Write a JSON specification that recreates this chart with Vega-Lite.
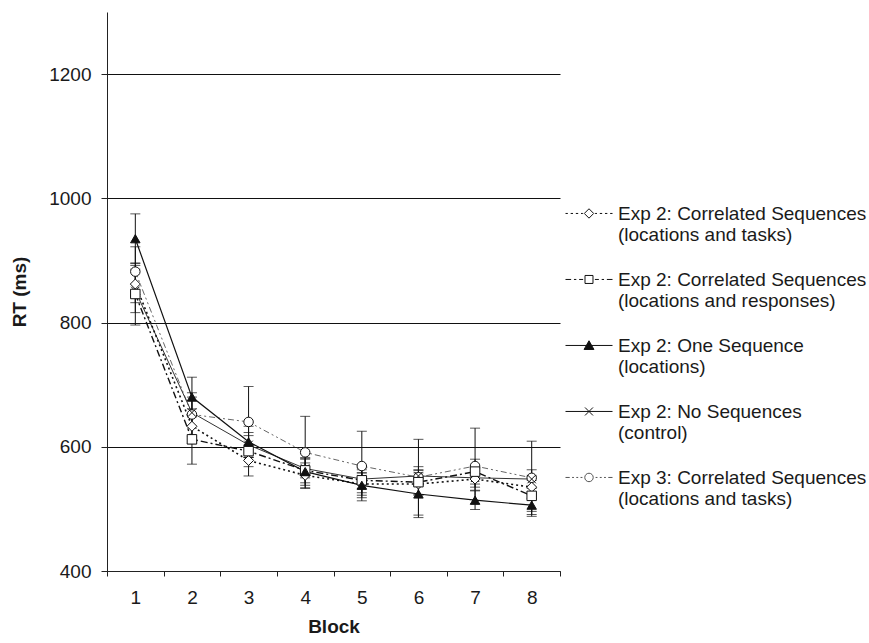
{
  "$schema": "https://vega.github.io/schema/vega-lite/v6.json",
  "width": 453,
  "height": 559,
  "autosize": {"type": "none"},
  "padding": {"left": 107, "top": 12, "right": 309, "bottom": 72},
  "background": "white",
  "config": {
    "font": "Liberation Sans",
    "view": {"stroke": null}
  },
  "data": {
    "values": [
      {"block": 1, "series": "d", "rt": 862, "se": 30},
      {"block": 2, "series": "d", "rt": 633, "se": 28},
      {"block": 3, "series": "d", "rt": 578, "se": 25},
      {"block": 4, "series": "d", "rt": 554, "se": 20},
      {"block": 5, "series": "d", "rt": 540, "se": 18},
      {"block": 6, "series": "d", "rt": 540, "se": 18},
      {"block": 7, "series": "d", "rt": 548, "se": 18},
      {"block": 8, "series": "d", "rt": 535, "se": 18},
      {"block": 1, "series": "s", "rt": 846, "se": 50},
      {"block": 2, "series": "s", "rt": 612, "se": 40},
      {"block": 3, "series": "s", "rt": 593, "se": 25},
      {"block": 4, "series": "s", "rt": 562, "se": 20},
      {"block": 5, "series": "s", "rt": 546, "se": 20},
      {"block": 6, "series": "s", "rt": 543, "se": 20},
      {"block": 7, "series": "s", "rt": 560, "se": 20},
      {"block": 8, "series": "s", "rt": 521, "se": 25},
      {"block": 1, "series": "t", "rt": 935, "se": 40},
      {"block": 2, "series": "t", "rt": 680, "se": 32},
      {"block": 3, "series": "t", "rt": 608, "se": 25},
      {"block": 4, "series": "t", "rt": 560, "se": 22},
      {"block": 5, "series": "t", "rt": 538, "se": 20},
      {"block": 6, "series": "t", "rt": 524, "se": 38},
      {"block": 7, "series": "t", "rt": 514, "se": 15},
      {"block": 8, "series": "t", "rt": 506, "se": 18},
      {"block": 1, "series": "x", "rt": 851, "se": 35},
      {"block": 2, "series": "x", "rt": 655, "se": 25},
      {"block": 3, "series": "x", "rt": 603, "se": 20},
      {"block": 4, "series": "x", "rt": 565, "se": 15},
      {"block": 5, "series": "x", "rt": 548, "se": 15},
      {"block": 6, "series": "x", "rt": 553, "se": 15},
      {"block": 7, "series": "x", "rt": 550, "se": 15},
      {"block": 8, "series": "x", "rt": 548, "se": 15},
      {"block": 1, "series": "o", "rt": 882, "se": 40},
      {"block": 2, "series": "o", "rt": 652, "se": 35},
      {"block": 3, "series": "o", "rt": 640, "se": 57},
      {"block": 4, "series": "o", "rt": 591, "se": 58},
      {"block": 5, "series": "o", "rt": 569, "se": 56},
      {"block": 6, "series": "o", "rt": 551, "se": 61},
      {"block": 7, "series": "o", "rt": 569, "se": 61},
      {"block": 8, "series": "o", "rt": 550, "se": 59}
    ]
  },
  "encoding": {
    "x": {
      "field": "block",
      "type": "ordinal",
      "scale": {"type": "band", "paddingInner": 0, "paddingOuter": 0},
      "axis": {
        "title": "Block",
        "titleFontSize": 19,
        "titleFontWeight": "bold",
        "titleColor": "#1a1a1a",
        "titlePadding": 10,
        "labelAngle": 0,
        "labelFontSize": 19,
        "labelColor": "#1a1a1a",
        "labelPadding": 12,
        "tickBand": "extent",
        "tickSize": 5,
        "tickColor": "#222",
        "domainColor": "#222",
        "grid": false
      }
    },
    "y": {
      "field": "rt",
      "type": "quantitative",
      "scale": {"domain": [400, 1300], "nice": false, "zero": false},
      "axis": {
        "title": "RT (ms)",
        "titleFontSize": 19,
        "titleFontWeight": "bold",
        "titleColor": "#1a1a1a",
        "titlePadding": 19,
        "values": [400, 600, 800, 1000, 1200],
        "format": "d",
        "labelFontSize": 19,
        "labelColor": "#1a1a1a",
        "labelPadding": 10,
        "tickSize": 6,
        "tickColor": "#222",
        "domainColor": "#222",
        "grid": true,
        "gridColor": "#111",
        "gridOpacity": 1,
        "gridWidth": 1
      }
    }
  },
  "layer": [
    {
      "transform": [{"filter": {"field": "series", "equal": "o"}}],
      "mark": {"type": "line", "stroke": "#666", "strokeWidth": 1, "strokeDash": [6, 3, 2, 3, 2, 3]},
      "encoding": {}
    },
    {
      "transform": [{"filter": {"field": "series", "equal": "x"}}],
      "mark": {"type": "line", "stroke": "#333", "strokeWidth": 1},
      "encoding": {}
    },
    {
      "transform": [{"filter": {"field": "series", "equal": "d"}}],
      "mark": {"type": "line", "stroke": "#111", "strokeWidth": 1.6, "strokeDash": [2, 3]},
      "encoding": {}
    },
    {
      "transform": [{"filter": {"field": "series", "equal": "s"}}],
      "mark": {"type": "line", "stroke": "#111", "strokeWidth": 1.4, "strokeDash": [7, 3, 2, 3]},
      "encoding": {}
    },
    {
      "transform": [{"filter": {"field": "series", "equal": "t"}}],
      "mark": {"type": "line", "stroke": "#111", "strokeWidth": 1.2},
      "encoding": {}
    },
    {
      "mark": {"type": "errorbar", "ticks": {"size": 10}, "color": "#111", "thickness": 1},
      "encoding": {
        "yError": {"field": "se"},
        "detail": {"field": "series", "type": "nominal"}
      }
    },
    {
      "transform": [{"filter": {"field": "series", "equal": "o"}}],
      "mark": {"type": "point", "shape": "circle", "filled": true, "fill": "white", "stroke": "#111", "strokeWidth": 1, "size": 90, "opacity": 1},
      "encoding": {}
    },
    {
      "transform": [{"filter": {"field": "series", "equal": "x"}}],
      "mark": {"type": "point", "shape": "M-1,-1L1,1M-1,1L1,-1", "filled": true, "fill": "white", "stroke": "#111", "strokeWidth": 1, "size": 70, "opacity": 1},
      "encoding": {}
    },
    {
      "transform": [{"filter": {"field": "series", "equal": "d"}}],
      "mark": {"type": "point", "shape": "diamond", "filled": true, "fill": "white", "stroke": "#111", "strokeWidth": 1, "size": 100, "opacity": 1},
      "encoding": {}
    },
    {
      "transform": [{"filter": {"field": "series", "equal": "s"}}],
      "mark": {"type": "point", "shape": "square", "filled": true, "fill": "white", "stroke": "#111", "strokeWidth": 1, "size": 90, "opacity": 1},
      "encoding": {}
    },
    {
      "transform": [{"filter": {"field": "series", "equal": "t"}}],
      "mark": {"type": "point", "shape": "triangle-up", "filled": true, "fill": "#111", "stroke": "#111", "strokeWidth": 1, "size": 90, "opacity": 1},
      "encoding": {}
    },
    {
      "transform": [{"filter": {"field": "block", "equal": 0}}],
      "mark": {"type": "point", "filled": true, "opacity": 1, "strokeWidth": 1},
      "encoding": {
        "shape": {
          "field": "series", "type": "nominal",
          "scale": {"domain": ["d", "s", "t", "x", "o"], "range": [
            "M-1,0.36H-0.9M-0.78,0.36H-0.68M-0.56,0.36H-0.46M-0.34,0.36H-0.26M0,0.16L0.2,0.36L0,0.56L-0.2,0.36ZM0.26,0.36H0.34M0.46,0.36H0.56M0.68,0.36H0.78M0.9,0.36H1",
            "M-1,0.36H-0.76M-0.64,0.36H-0.54M-0.42,0.36H-0.25M-0.17,0.19H0.17V0.53H-0.17ZM0.25,0.36H0.42M0.54,0.36H0.64M0.76,0.36H1",
            "M-1,0.36H1M0,0.16L0.21,0.53L-0.21,0.53Z",
            "M-1,0.36H1M-0.17,0.19L0.17,0.53M-0.17,0.53L0.17,0.19",
            "M-1,0.36H-0.82M-0.72,0.36H-0.64M-0.54,0.36H-0.46M-0.36,0.36H-0.28M0.18,0.36A0.18,0.18,0,1,1,-0.18,0.36A0.18,0.18,0,1,1,0.18,0.36ZM0.28,0.36H0.36M0.46,0.36H0.54M0.64,0.36H0.72M0.82,0.36H1"
          ]},
          "legend": {
            "orient": "none",
            "legendX": 458,
            "legendY": 169,
            "title": null,
            "padding": 0,
            "symbolSize": 2209,
            "symbolStrokeWidth": 1,
            "symbolOpacity": 1,
            "labelFontSize": 19,
            "labelColor": "#1a1a1a",
            "labelOffset": 5,
            "labelLimit": 0,
            "labelBaseline": "top",
            "rowPadding": 2,
            "labelExpr": "datum.value === 'd' ? ['Exp 2: Correlated Sequences', '(locations and tasks)'] : datum.value === 's' ? ['Exp 2: Correlated Sequences', '(locations and responses)'] : datum.value === 't' ? ['Exp 2: One Sequence', '(locations)'] : datum.value === 'x' ? ['Exp 2: No Sequences', '(control)'] : ['Exp 3: Correlated Sequences', '(locations and tasks)']"
          }
        },
        "fill": {
          "field": "series", "type": "nominal",
          "scale": {"domain": ["d", "s", "t", "x", "o"], "range": ["white", "white", "#111", "white", "white"]}
        },
        "stroke": {
          "field": "series", "type": "nominal",
          "scale": {"domain": ["d", "s", "t", "x", "o"], "range": ["#111", "#111", "#111", "#111", "#555"]}
        }
      }
    }
  ]
}
